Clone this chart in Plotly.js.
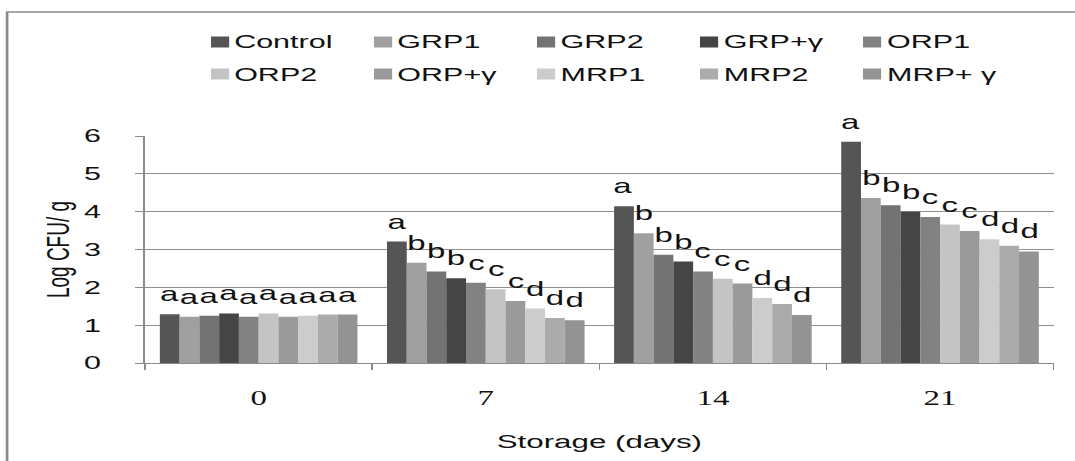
<!DOCTYPE html>
<html>
<head>
<meta charset="utf-8">
<script src="https://cdn.plot.ly/plotly-3.0.1.min.js"></script>
<style>
  html, body { margin: 0; padding: 0; background: #ffffff; overflow: hidden; }
  #wrap { width: 1075px; height: 461px; overflow: hidden; }
  #chart { width: 652px; height: 461px; transform: scaleX(1.6488); transform-origin: 0 0; }
</style>
</head>
<body>
<div id="wrap"><div id="chart"></div></div>
<script>
// ---- data ----
const categories = ['0', '7', '14', '21'];
const seriesNames = ['Control', 'GRP1', 'GRP2', 'GRP+γ', 'ORP1', 'ORP2', 'ORP+γ', 'MRP1', 'MRP2', 'MRP+ γ'];
const seriesColors = ['#555555', '#a0a0a0', '#737373', '#454545', '#828282', '#c4c4c4', '#9a9a9a', '#cccccc', '#ababab', '#939393'];

const control = [1.29, 3.21, 4.14, 5.85];
const grp1    = [1.22, 2.65, 3.43, 4.36];
const grp2    = [1.25, 2.42, 2.86, 4.17];
const grpG    = [1.31, 2.24, 2.68, 4.00];
const orp1    = [1.22, 2.12, 2.42, 3.86];
const orp2    = [1.31, 1.95, 2.23, 3.66];
const orpG    = [1.22, 1.64, 2.10, 3.49];
const mrp1    = [1.25, 1.44, 1.72, 3.27];
const mrp2    = [1.28, 1.19, 1.56, 3.10];
const mrpG    = [1.28, 1.13, 1.27, 2.95];

const lettersControl = ['a', 'a', 'a', 'a'];
const lettersGrp1    = ['a', 'b', 'b', 'b'];
const lettersGrp2    = ['a', 'b', 'b', 'b'];
const lettersGrpG    = ['a', 'b', 'b', 'b'];
const lettersOrp1    = ['a', 'c', 'c', 'c'];
const lettersOrp2    = ['a', 'c', 'c', 'c'];
const lettersOrpG    = ['a', 'c', 'c', 'c'];
const lettersMrp1    = ['a', 'd', 'd', 'd'];
const lettersMrp2    = ['a', 'd', 'd', 'd'];
const lettersMrpG    = ['a', 'd', 'd', 'd'];

const yTickVals = [0, 1, 2, 3, 4, 5, 6];
const xTitle = 'Storage (days)';
const yTitle = 'Log CFU/ g';

const seriesValues = [control, grp1, grp2, grpG, orp1, orp2, orpG, mrp1, mrp2, mrpG];
const seriesLetters = [lettersControl, lettersGrp1, lettersGrp2, lettersGrpG, lettersOrp1,
                       lettersOrp2, lettersOrpG, lettersMrp1, lettersMrp2, lettersMrpG];

// ---- layout constants (inner, unstretched pixels) ----
const W = 652, H = 461;
const M = { l: 88, r: 13, t: 136, b: 98 };
const PW = W - M.l - M.r, PH = H - M.t - M.b;
const px2x = p => (p - M.l) / PW;
const py2y = p => (H - M.b - p) / PH;
const SX = 1.6488;
const bargap = 0.13;
const sansFont = 'Liberation Sans, Arial, sans-serif';
const serifFont = 'Liberation Serif, Times New Roman, serif';

const traces = seriesNames.map((name, i) => ({
  type: 'bar',
  name: name,
  x: categories,
  y: seriesValues[i],
  marker: { color: seriesColors[i], line: { width: 0 } },
  showlegend: false,
  hoverinfo: 'skip'
}));

const nS = seriesNames.length;
const bw = (1 - bargap) / nS;
const annotations = [];
seriesValues.forEach((vals, i) => {
  vals.forEach((v, k) => {
    annotations.push({
      xref: 'x', yref: 'y',
      x: k - (1 - bargap) / 2 + (i + 0.5) * bw,
      y: v,
      text: seriesLetters[i][k],
      showarrow: false,
      xanchor: 'center', yanchor: 'bottom',
      yshift: 7,
      font: { family: sansFont, size: 20, color: '#111111' }
    });
  });
});

// manual legend: 2 rows x 5 columns
const shapes = [];
const legLeft0 = 211 / SX, legStep = 163 / SX;
const rowY = [42, 74];
seriesNames.forEach((name, i) => {
  const row = Math.floor(i / 5), col = i % 5;
  const mx = legLeft0 + col * legStep;
  const my = rowY[row];
  shapes.push({
    type: 'rect', xref: 'paper', yref: 'paper',
    x0: px2x(mx), x1: px2x(mx + 11),
    y0: py2y(my + 5.5), y1: py2y(my - 5.5),
    fillcolor: seriesColors[i], line: { width: 0 }
  });
  annotations.push({
    xref: 'paper', yref: 'paper',
    x: px2x(mx + 12.5), y: py2y(my),
    text: name, showarrow: false,
    xanchor: 'left', yanchor: 'middle',
    font: { family: sansFont, size: 18.5, color: '#111111' }
  });
});

// outer frame
shapes.push({
  type: 'rect', xref: 'paper', yref: 'paper',
  x0: px2x(4.3), x1: px2x(W + 40), y0: py2y(H + 40), y1: py2y(12),
  line: { color: '#8a8a8a', width: 1.6 }, fillcolor: 'rgba(0,0,0,0)', layer: 'below'
});

const layout = {
  width: W, height: H,
  margin: M,
  paper_bgcolor: '#ffffff', plot_bgcolor: '#ffffff',
  barmode: 'group', bargap: bargap, bargroupgap: 0,
  showlegend: false,
  font: { family: sansFont, size: 18, color: '#111111' },
  xaxis: {
    type: 'category',
    tickson: 'boundaries',
    ticks: 'outside', ticklen: 6, tickcolor: '#8a8a8a', tickwidth: 1,
    showline: true, linecolor: '#8a8a8a', linewidth: 1,
    showgrid: false, zeroline: false,
    tickfont: { family: serifFont, size: 20, color: '#111111' },
    ticklabelstandoff: 17,
    automargin: false,
    title: { text: xTitle, standoff: 26, font: { family: sansFont, size: 19, color: '#111111' } }
  },
  yaxis: {
    range: [0, 6],
    tickvals: yTickVals,
    ticks: 'outside', ticklen: 5, tickcolor: '#8a8a8a', tickwidth: 1,
    showline: true, linecolor: '#8a8a8a', linewidth: 1,
    showgrid: true, gridcolor: '#8f8f8f', gridwidth: 1,
    zeroline: false,
    tickfont: { family: sansFont, size: 18.5, color: '#111111' },
    ticklabelstandoff: 17,
    automargin: false,
    title: { text: yTitle, standoff: 3, font: { family: sansFont, size: 19, color: '#111111' } }
  },
  annotations: annotations,
  shapes: shapes
};

Plotly.newPlot('chart', traces, layout, { staticPlot: true, displayModeBar: false, responsive: false });
</script>
</body>
</html>
